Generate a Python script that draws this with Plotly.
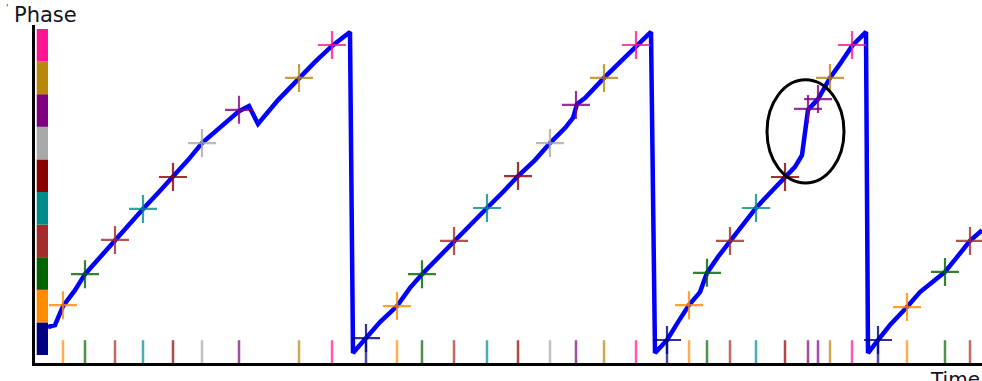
import plotly.graph_objects as go

# ---- data (time in arbitrary units, phase in colour bins 0..10) ----
phase_colors = ["#000080", "#ff8c00", "#006400", "#a52a2a", "#008b8b",
                "#8b0000", "#a9a9a9", "#800080", "#b8860b", "#ff1493"]

# phase trajectory (blue line), cycle by cycle
line_time = [
    1.3, 2.0, 2.8, 4.0, 5.0, 6.5, 8.0, 9.5, 10.8, 12.3, 13.8, 15.3, 16.7,
    18.5, 20.4, 21.4, 22.3, 24.3, 26.4, 28.0, 29.7, 31.5, 31.8,
    33.1, 34.5, 36.2, 37.5, 38.7, 40.3, 41.9, 43.5, 45.2, 46.8, 48.3, 50.0,
    51.5, 53.0, 53.8, 54.2, 55.0, 56.9, 58.5, 60.1, 61.6, 62.0,
    63.2, 64.3, 65.4, 66.5, 67.2, 68.3, 69.5, 70.8, 72.1, 73.5, 75.0,
    76.0, 76.7, 77.0, 77.3, 78.3, 79.5, 80.5, 81.7, 83.1, 83.3,
    84.3, 85.5, 87.2, 88.5, 90.0, 91.0, 92.3, 93.5, 94.7]
line_phase = [
    0.86, 0.92, 1.50, 1.99, 2.48, 3.01, 3.53, 4.02, 4.48, 4.97, 5.46, 5.98, 6.50,
    6.99, 7.48, 7.64, 7.09, 7.82, 8.50, 8.99, 9.48, 9.91, 0.06,
    0.52, 1.01, 1.50, 2.06, 2.48, 2.98, 3.50, 4.02, 4.51, 5.00, 5.49, 5.98,
    6.50, 6.96, 7.27, 7.70, 7.88, 8.50, 8.99, 9.48, 9.91, 0.06,
    0.46, 1.01, 1.53, 1.93, 2.52, 3.01, 3.50, 4.02, 4.51, 4.97, 5.46,
    5.77, 6.13, 6.90, 7.52, 7.85, 8.50, 8.93, 9.48, 9.91, 0.06,
    0.46, 0.92, 1.47, 1.93, 2.30, 2.55, 3.04, 3.50, 3.83]

# phase-crossing events (plus markers and rug ticks)
event_time = [2.8, 5.0, 8.0, 10.8, 13.8, 16.7, 20.4, 26.4, 29.7,
              33.1, 36.2, 38.7, 41.9, 45.2, 48.3, 51.5, 54.1, 56.9, 60.1,
              63.2, 65.4, 67.2, 69.5, 72.1, 75.0, 77.3, 78.3, 79.5, 81.7,
              84.3, 87.2, 91.0, 93.5]
event_phase = [1.53, 2.48, 3.53, 4.48, 5.46, 6.50, 7.52, 8.50, 9.51,
               0.52, 1.50, 2.48, 3.50, 4.51, 5.49, 6.50, 7.67, 8.50, 9.51,
               0.46, 1.53, 2.52, 3.50, 4.51, 5.46, 7.55, 7.85, 8.50, 9.51,
               0.46, 1.47, 2.55, 3.50]
event_bin = [1, 2, 3, 4, 5, 6, 7, 8, 9,
             0, 1, 2, 3, 4, 5, 6, 7, 8, 9,
             0, 1, 2, 3, 4, 5, 7, 7, 8, 9,
             0, 1, 2, 3]

# highlighted region (ellipse)
highlight_time = [73.2, 80.9]
highlight_phase = [5.28, 8.44]

rug_phase = 0.046
colorbar_time = [0.17, 1.3]

# ---- figure ----
fig = go.Figure()

fig.add_trace(go.Scatter(x=line_time, y=line_phase, mode="lines",
                         line=dict(color="#0000ff", width=4.5),
                         hoverinfo="skip", showlegend=False))

ev_colors = [phase_colors[b] for b in event_bin]

fig.add_trace(go.Scatter(x=event_time, y=[rug_phase] * len(event_time), mode="markers",
                         marker=dict(symbol="line-ns", size=19, opacity=0.7,
                                     line=dict(color=ev_colors, width=2.5)),
                         hoverinfo="skip", showlegend=False))

fig.add_trace(go.Scatter(x=event_time, y=event_phase, mode="markers",
                         marker=dict(symbol="cross-thin", size=20, opacity=0.8,
                                     line=dict(color=ev_colors, width=2.2)),
                         hoverinfo="skip", showlegend=False))

shapes = []
for i, c in enumerate(phase_colors):
    shapes.append(dict(type="rect", xref="x", yref="y",
                       x0=colorbar_time[0], x1=colorbar_time[1], y0=i, y1=i + 1,
                       fillcolor=c, line=dict(width=0), layer="below"))
shapes.append(dict(type="circle", xref="x", yref="y",
                   x0=highlight_time[0], x1=highlight_time[1],
                   y0=highlight_phase[0], y1=highlight_phase[1],
                   line=dict(color="black", width=3)))

fig.update_layout(
    width=982, height=381,
    margin=dict(l=35, r=0, t=25, b=18),
    paper_bgcolor="white", plot_bgcolor="white",
    shapes=shapes,
    xaxis=dict(range=[0, 94.7], showgrid=False, zeroline=False, showticklabels=False,
               ticks="", showline=True, linecolor="black", linewidth=3),
    yaxis=dict(range=[-0.245, 10.123], showgrid=False, zeroline=False, showticklabels=False,
               ticks="", showline=True, linecolor="black", linewidth=3),
    annotations=[
        dict(text="Phase", xref="paper", yref="paper", x=-0.0243, y=1.0296,
             xanchor="left", yanchor="middle", showarrow=False,
             font=dict(family="DejaVu Sans", size=21, color="#111122")),
        dict(text="'", xref="paper", yref="paper", x=-0.026, y=1.05,
             xanchor="right", yanchor="middle", showarrow=False,
             font=dict(family="DejaVu Sans", size=9, color="#333")),
        dict(text="Time", xref="paper", yref="paper", x=0.943, y=-0.006,
             xanchor="left", yanchor="top", showarrow=False,
             font=dict(family="DejaVu Sans", size=20, color="#111122")),
    ],
)

fig.write_html("out.html", config={"displayModeBar": False},
               post_script="document.body.style.margin='0px';")
